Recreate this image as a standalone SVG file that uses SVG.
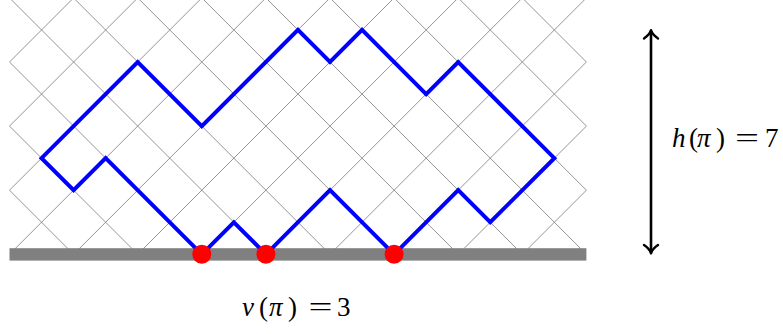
<svg xmlns="http://www.w3.org/2000/svg" width="783" height="334" viewBox="0 0 783 334">
<style>
.grid{fill:none;stroke:#7a7a7a;stroke-width:0.8}
.path{fill:none;stroke:#0000ff;stroke-width:4;stroke-linejoin:miter}
.dot{fill:#ff0000}
.arr{fill:none;stroke:#000;stroke-width:2.6;stroke-linecap:butt}
.head{fill:none;stroke:#000;stroke-width:2.4;stroke-linecap:round;stroke-linejoin:round}
.lbl{font-family:"Liberation Serif","Times New Roman",serif;font-size:27px;fill:#000}
.it{font-style:italic}
</style>
<defs>
<clipPath id="gc"><rect x="9.5" y="-2.1" width="576.9" height="256.4"/></clipPath>
</defs>
<g id="grid" clip-path="url(#gc)">
<path class="grid" d="M-182.8,254.3L73.6,-2.1M-118.7,254.3L137.7,-2.1M-54.6,254.3L201.8,-2.1M9.5,254.3L265.9,-2.1M73.6,254.3L330,-2.1M137.7,254.3L394.1,-2.1M201.8,254.3L458.2,-2.1M265.9,254.3L522.3,-2.1M330,254.3L586.4,-2.1M394.1,254.3L650.5,-2.1M458.2,254.3L714.6,-2.1M522.3,254.3L778.7,-2.1"/>
<path class="grid" d="M73.6,254.3L-182.8,-2.1M137.7,254.3L-118.7,-2.1M201.8,254.3L-54.6,-2.1M265.9,254.3L9.5,-2.1M330,254.3L73.6,-2.1M394.1,254.3L137.7,-2.1M458.2,254.3L201.8,-2.1M522.3,254.3L265.9,-2.1M586.4,254.3L330,-2.1M650.5,254.3L394.1,-2.1M714.6,254.3L458.2,-2.1M778.7,254.3L522.3,-2.1"/>
</g>
<g id="baseline">
<rect x="9.5" y="248.2" width="576.9" height="12.4" fill="#808080"/>
</g>
<g id="lattice-path">
<polygon class="path" points="201.8,254.3 105.65,158.15 73.6,190.2 41.55,158.15 137.7,62 201.8,126.1 297.95,29.95 330,62 362.05,29.95 426.15,94.05 458.2,62 554.35,158.15 490.25,222.25 458.2,190.2 394.1,254.3 330,190.2 265.9,254.3 233.85,222.25"/>
</g>
<g id="touch-points">
<circle class="dot" cx="201.8" cy="254.3" r="9.5"/>
<circle class="dot" cx="265.9" cy="254.3" r="9.5"/>
<circle class="dot" cx="394.1" cy="254.3" r="9.5"/>
</g>
<g id="connectors">
<line class="arr" x1="651" y1="31" x2="651" y2="252.5"/>
<path class="head" d="M644,38.5 C647,36.5 650,33.5 651,30.2 C652,33.5 655,36.5 658,38.5"/>
<path class="head" d="M644,245 C647,247 650,250 651,253.3 C652,250 655,247 658,245"/>
</g>
<g id="label-h">
<text class="lbl" y="146.5"><tspan class="it" x="672">h</tspan><tspan x="689">(</tspan><tspan class="it" x="697">π</tspan><tspan x="716">)</tspan></text>
<text class="lbl" x="735" y="146.5" textLength="24" lengthAdjust="spacingAndGlyphs">=</text>
<text class="lbl" x="765" y="146.5">7</text>
</g>
<g id="label-v">
<text class="lbl" y="315.5"><tspan class="it" x="242">v</tspan><tspan x="259">(</tspan><tspan class="it" x="269">π</tspan><tspan x="288">)</tspan></text>
<text class="lbl" x="308.5" y="315.5" textLength="24" lengthAdjust="spacingAndGlyphs">=</text>
<text class="lbl" x="337" y="315.5">3</text>
</g>
</svg>
